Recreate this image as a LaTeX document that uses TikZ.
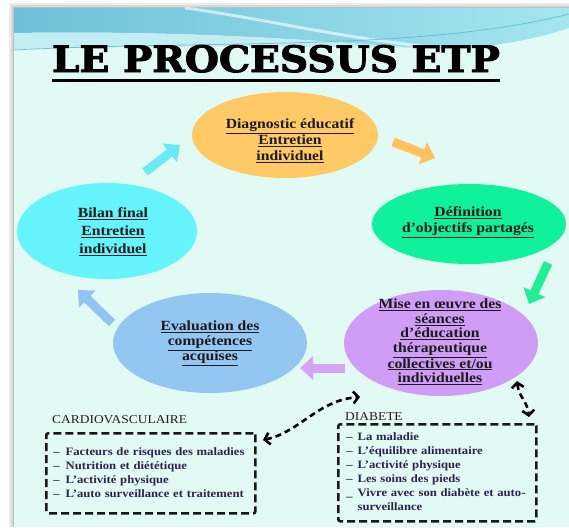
\documentclass[tikz,border=0pt]{standalone}
\usepackage{fontspec}
\usepackage{graphicx}
\setmainfont[FakeStretch=1.12]{Liberation Serif}
\newfontfamily\titlefont[FakeBold=2.5]{DejaVu Serif}
\usetikzlibrary{arrows.meta,shapes.geometric}
\definecolor{mint}{HTML}{E2FAF4}
\definecolor{bandL}{HTML}{6DC0D8}
\definecolor{bandR}{HTML}{A4E6F0}
\definecolor{pale}{HTML}{C2EEF3}
\definecolor{streak}{HTML}{5DB8D2}
\definecolor{orE}{HTML}{FFC966}
\definecolor{grE}{HTML}{0FF29B}
\definecolor{puE}{HTML}{CF9DF6}
\definecolor{blE}{HTML}{94C6F2}
\definecolor{cyE}{HTML}{66F4FC}
\definecolor{orA}{HTML}{FFC25E}
\definecolor{grA}{HTML}{22EE98}
\definecolor{puA}{HTML}{D5A4F6}
\definecolor{blA}{HTML}{92C4F3}
\definecolor{cyA}{HTML}{6AEAF4}
\definecolor{etxt}{HTML}{1C1A1A}
\definecolor{itxt}{HTML}{2D2250}
\definecolor{ltxt}{HTML}{2B1A1A}
\newcommand{\myul}[1]{\underline{#1}}
\begin{document}
\begin{tikzpicture}[x=1pt,y=-1pt,
  ell/.style={ellipse, inner sep=0pt, draw=none},
  etext/.style={align=center, text=etxt, font=\fontsize{14}{16}\selectfont\bfseries, inner sep=0pt},
  blockarrow/.style={line width=9pt, -{Triangle[length=13pt,width=23pt]}},
  dconn/.style={line width=2.6pt, dash pattern=on 6pt off 4pt, {Straight Barb[length=5pt,width=12pt]}-{Straight Barb[length=5pt,width=12pt]}},
  dbox/.style={draw=black!90, line width=2.6pt, dash pattern=on 8pt off 4pt, rounded corners=2pt, inner ysep=0pt, font=\fontsize{11.3}{14}\selectfont\bfseries, text=itxt},
  lab/.style={font=\fontsize{12}{14}\selectfont, text=ltxt, inner sep=0pt, anchor=base west}
]
\useasboundingbox (0,0) rectangle (569,527);
% background and frame
\fill[white] (0,0) rectangle (569,527);
\fill[gray!15] (9,3) rectangle (569,527);
\fill[gray!30] (11,5) rectangle (569,527);
\fill[gray!50] (13,7) rectangle (569,527);
\fill[mint] (14,8) rectangle (569,527);
\shade[left color=bandL, right color=bandR] (14,8) -- (569,8) -- (569,28) .. controls (520,44) and (470,50) .. (420,48) .. controls (330,42) and (200,30) .. (14,33) -- cycle;
\fill[pale] (14,33) .. controls (200,30) and (330,42) .. (420,48) .. controls (300,46) and (150,46) .. (14,49) -- cycle;
\draw[white, line width=3pt, opacity=0.6] (185,8) .. controls (260,18) and (330,36) .. (430,47);
\draw[streak, line width=0.8pt, opacity=0.8] (14,50) .. controls (200,40) and (420,52) .. (569,14);
% title
\node[anchor=base, inner sep=0pt] (title) at (276,72) {\resizebox{448pt}{27pt}{\titlefont\bfseries LE PROCESSUS ETP}};
\draw[line width=3pt] ([yshift=-8pt]title.base west) -- ([yshift=-8pt]title.base east);
% ellipses
\node[ell, fill=orE, minimum width=186pt, minimum height=86pt] (diag) at (285,135) {};
\node[ell, fill=grE, minimum width=194pt, minimum height=80pt] (def) at (469,224) {};
\node[ell, fill=puE, minimum width=194pt, minimum height=106pt] (mise) at (441,343) {};
\node[ell, fill=blE, minimum width=194pt, minimum height=100pt] (eval) at (210,343) {};
\node[ell, fill=cyE, minimum width=180pt, minimum height=96pt] (bilan) at (107,231) {};
% texts
\node[etext] (diagT) at (290,141) {\myul{Diagnostic éducatif}\\ \myul{Entretien}\\ \myul{individuel}};
\node[etext] (defT) at (468,222) {\myul{Définition}\\ \myul{d’objectifs partagés}};
\node[etext, font=\fontsize{14}{18}\selectfont\bfseries] (bilanT) at (113,232) {\myul{Bilan final}\\ \myul{Entretien}\\ \myul{individuel}};
\node[etext, font=\fontsize{14}{15}\selectfont\bfseries] (evalT) at (210,343) {\myul{Evaluation des}\\ \myul{compétences}\\ \myul{acquises}};
\node[etext, font=\fontsize{14}{14.5}\selectfont\bfseries] (miseT) at (440,342) {\myul{Mise en œuvre des}\\ \myul{séances}\\ \myul{d’éducation}\\ \myul{thérapeutique}\\ \myul{collectives et/ou}\\ \myul{individuelles}};
% block arrows
\coordinate (a1s) at (145,172); \coordinate (a1e) at (180,145);
\coordinate (a2s) at (393,142); \coordinate (a2e) at (435,158);
\coordinate (a3s) at (548,263); \coordinate (a3e) at (529,304);
\coordinate (a4s) at (345,368); \coordinate (a4e) at (300,368);
\coordinate (a5s) at (112,323); \coordinate (a5e) at (78,290);
\draw[blockarrow, cyA] (a1s) -- (a1e);
\draw[blockarrow, orA] (a2s) -- (a2e);
\draw[blockarrow, grA] (a3s) -- (a3e);
\draw[blockarrow, puA] (a4s) -- (a4e);
\draw[blockarrow, blA] (a5s) -- (a5e);
% labels and boxes
\node[lab] (cardL) at (52,423) {CARDIOVASCULAIRE};
\node[lab] (diabL) at (345,420) {DIABETE};
\node[dbox, anchor=north west, text width=195pt, inner xsep=7pt, minimum height=80pt] (cbox) at (45,432) {\begin{tabular}{@{}l@{\hspace{6pt}}l@{}}–&Facteurs de risques des maladies\\ –&Nutrition et diététique\\ –&L’activité physique\\ –&L’auto surveillance et traitement\end{tabular}};
\node[dbox, anchor=north west, text width=182pt, inner xsep=8pt, minimum height=97pt] (dbx) at (337,423) {\begin{tabular}{@{}l@{\hspace{5pt}}l@{}}–&La maladie\\ –&L’équilibre alimentaire\\ –&L’activité physique\\ –&Les soins des pieds\\ \_&Vivre avec son diabète et auto-\\ &surveillance\end{tabular}};
% dashed connectors
\coordinate (c1) at (263,440); \coordinate (c2) at (360,397);
\draw[dconn] (c1) .. controls (300,432) and (318,400) .. (c2);
\coordinate (d1) at (517,381); \coordinate (d2) at (529,417);
\draw[dconn] (d1) .. controls (519,398) and (527,400) .. (d2);
\end{tikzpicture}
\end{document}
